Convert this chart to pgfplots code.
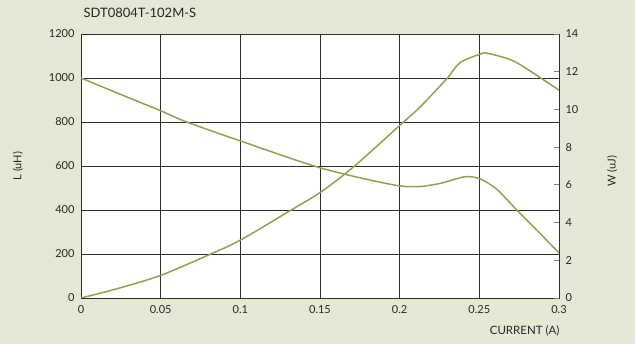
\documentclass[border=0pt]{standalone}
\usepackage{pgfplots}
\pgfplotsset{compat=1.18}
\usepackage{fontspec}
\setmainfont{Lato}
\definecolor{bg}{RGB}{231,231,214}
\definecolor{olive}{RGB}{152,158,82}
\definecolor{gridc}{RGB}{45,45,45}
\pgfplotsset{every axis title shift=0pt}
\begin{document}
\begin{tikzpicture}
\fill[bg] (-81bp,-46bp) rectangle (554bp,298bp);
\useasboundingbox (-81bp,-46bp) rectangle (554bp,298bp);
\begin{axis}[
  at={(0,0)}, anchor=south west,
  scale only axis, width=478bp, height=264bp,
  xmin=0, xmax=0.3, ymin=0, ymax=1200,
  xtick={0,0.05,0.1,0.15,0.2,0.25,0.3},
  xticklabels={0,0.05,0.1,0.15,0.2,0.25,0.3},
  ytick={0,200,400,600,800,1000,1200},
  yticklabels={0,200,400,600,800,1000,1200},
  grid=major,
  major grid style={gridc, line width=0.8bp},
  axis line style={gridc, line width=0.8bp},
  major tick length=0pt,
  axis background/.style={fill=white},
  tick label style={font=\fontsize{11bp}{13bp}\selectfont, text=black!85},
  yticklabel style={xshift=-3bp},
  xticklabel style={yshift=-4bp},
  xlabel={CURRENT (A)},
  xlabel style={at={(rel axis cs:1,0)}, anchor=east, xshift=4bp, yshift=-33bp, font=\fontsize{11.5bp}{13bp}\selectfont, text=black!85},
  ylabel={L (uH)},
  ylabel style={at={(rel axis cs:-0.1318,0.5)}, anchor=center, font=\fontsize{11bp}{13bp}\selectfont, text=black!85},
  title={SDT0804T-102M-S},
  title style={at={(rel axis cs:-0.002,1.0795)}, anchor=west, font=\fontsize{13bp}{15bp}\selectfont, text=black!85},
]
\addplot[olive, line width=1.5bp, smooth, tension=0.5] coordinates {
(0,1000) (0.025,925) (0.05,851) (0.0663,800) (0.1,714)
(0.15,592) (0.194,517) (0.2107,506) (0.2254,521) (0.241,551) (0.2505,541)
(0.261,494) (0.2735,400) (0.286,309) (0.3,205)
};
\end{axis}
\begin{axis}[
  at={(0,0)}, anchor=south west,
  scale only axis, width=478bp, height=264bp,
  xmin=0, xmax=0.3, ymin=0, ymax=14,
  axis x line=none,
  axis y line*=right,
  axis line style={gridc, line width=0.8bp},
  ytick={0,2,4,6,8,10,12,14},
  yticklabels={0,2,4,6,8,10,12,14},
  ytick style={gray, line width=0.8bp},
  major tick length=5bp,
  tick align=inside,
  tick label style={font=\fontsize{11bp}{13bp}\selectfont, text=black!85},
  yticklabel style={xshift=3bp},
  ylabel={W (uJ)},
  ylabel style={at={(rel axis cs:1.111,0.48)}, anchor=center, font=\fontsize{11bp}{13bp}\selectfont, text=black!85},
]
\addplot[olive, line width=1.5bp, smooth, tension=0.5] coordinates {
(0,0) (0.0234,0.51) (0.05,1.20) (0.08,2.28) (0.1,3.07) (0.131,4.62) (0.15,5.59)
(0.171,6.95) (0.2,9.15) (0.2128,10.13) (0.2296,11.63) (0.2379,12.48) (0.2505,12.93)
(0.255,12.98) (0.2714,12.57) (0.2881,11.69) (0.3,11.02)
};
\end{axis}
\end{tikzpicture}
\end{document}
